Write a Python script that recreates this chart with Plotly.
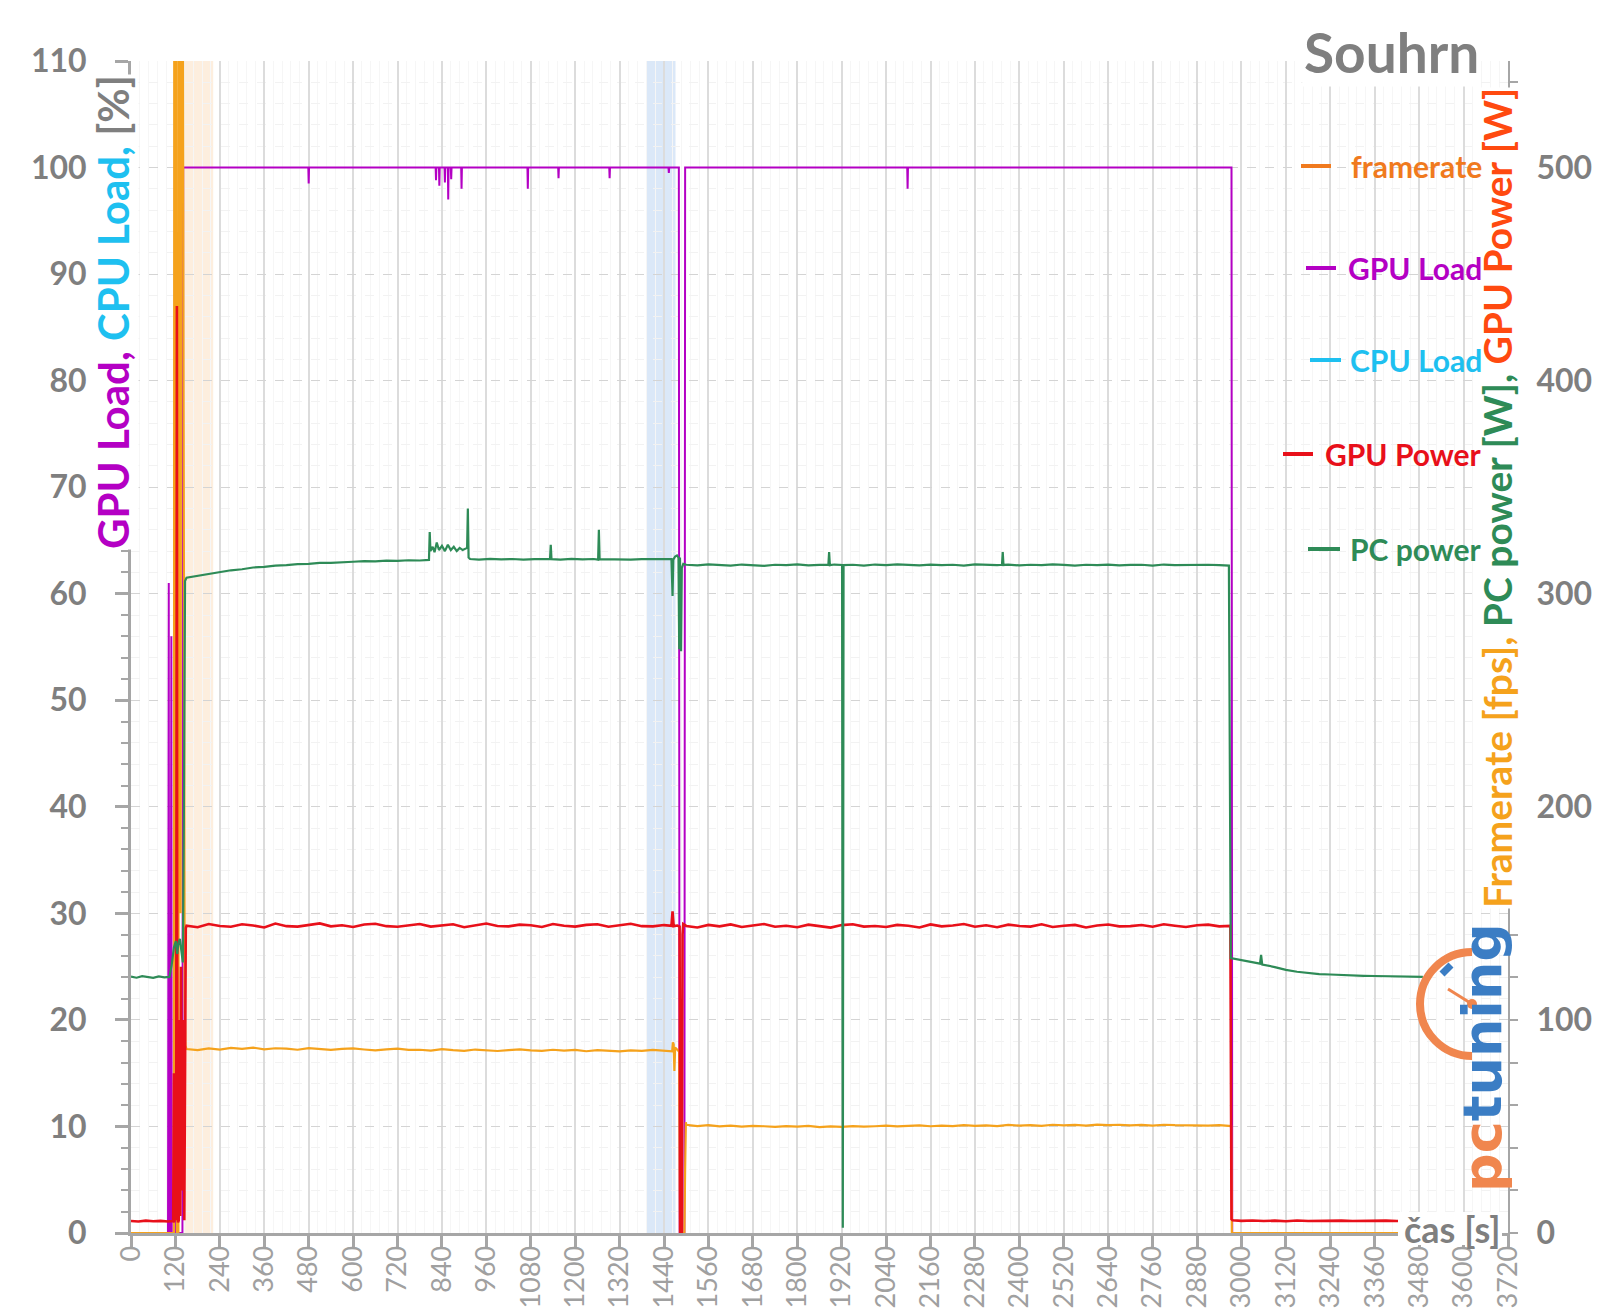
import plotly.graph_objects as go

# ---------------- canvas / plot box (pixels) ----------------
W, H = 1600, 1314
ML, MR, MT, MB = 123, 100, 53, 89
PW, PH = W - ML - MR, H - MT - MB

# ---------------- data ----------------
# GPU Load [%]  (left axis)   (time s, value)
gpu_load_pts = [
    (0, 0), (100, 0), (102, 61), (103, 0), (107, 0), (109, 56), (110, 0), (116, 0), (118, 45), (120, 0),
    (122, 30), (124, 0), (139, 0), (141, 100), (479, 100), (480, 98.5), (481, 100), (823, 100), (824, 98.8),
    (825, 100), (832, 100), (833, 98.3), (834, 100), (847, 100), (848, 98.6), (849, 100), (856, 100), (857, 97),
    (858, 100), (864, 100), (865, 98.9), (866, 100), (892, 100), (893, 98), (894, 100), (1071, 100), (1072, 98),
    (1073, 100), (1154, 100), (1155, 99), (1156, 100), (1292, 100), (1293, 99), (1294, 100), (1452, 100),
    (1453, 99.5), (1454, 100), (1480, 100), (1482, 0), (1495, 0), (1497, 100), (2097, 100), (2098, 98),
    (2099, 100), (2973, 100), (2975, 0), (3490, 0),
]

# CPU Load [%]  (left axis) - no samples visible in the chart
cpu_load_pts = []

# Framerate [fps]  (right axis)
framerate_pts = [
    (0, 0), (114, 0), (116, 0), (117, 700), (119, 700), (120, 60), (121, 700), (123, 700), (124, 0), (128, 0),
    (130, 700), (133, 700), (134, 150), (136, 700), (139, 700), (141, 507), (143, 200), (145, 110), (147, 88),
    (150, 86.3), (180, 85.8), (210, 86.6), (240, 86.1), (270, 86.9), (300, 86.4), (330, 87.0), (360, 86.2),
    (390, 86.7), (420, 86.5), (450, 86.0), (480, 86.8), (510, 86.3), (540, 85.9), (570, 86.4), (600, 86.6),
    (630, 86.1), (660, 85.7), (690, 86.2), (720, 86.5), (750, 85.9), (780, 86.0), (810, 85.6), (840, 86.3),
    (870, 85.8), (900, 85.5), (930, 86.1), (960, 85.9), (990, 85.4), (1020, 85.8), (1050, 86.2), (1080, 85.7),
    (1110, 85.5), (1140, 86.0), (1170, 85.6), (1200, 85.9), (1230, 85.3), (1260, 85.8), (1290, 85.6),
    (1320, 85.2), (1350, 85.7), (1380, 85.5), (1410, 85.9), (1440, 85.4), (1462, 85.3), (1464, 89.5),
    (1466, 88.5), (1468, 76), (1470, 87), (1476, 86), (1481, 85), (1483, 0), (1495, 0), (1497, 30), (1499, 52),
    (1500, 50.8), (1530, 50.2), (1560, 50.6), (1590, 50.0), (1620, 50.4), (1650, 49.9), (1680, 50.3),
    (1710, 50.1), (1740, 49.8), (1770, 50.2), (1800, 49.9), (1830, 50.3), (1860, 49.7), (1890, 50.0),
    (1920, 49.8), (1950, 50.2), (1980, 49.9), (2010, 50.1), (2040, 50.4), (2070, 50.0), (2100, 50.3),
    (2130, 50.5), (2160, 50.1), (2190, 50.4), (2220, 50.2), (2250, 50.6), (2280, 50.3), (2310, 50.5),
    (2340, 50.2), (2370, 50.7), (2400, 50.4), (2430, 50.6), (2460, 50.3), (2490, 50.8), (2520, 50.5),
    (2550, 50.7), (2580, 50.4), (2610, 50.9), (2640, 50.6), (2670, 50.8), (2700, 50.5), (2730, 50.7),
    (2760, 50.4), (2790, 50.8), (2820, 50.6), (2850, 50.5), (2880, 50.7), (2910, 50.4), (2940, 50.6),
    (2965, 50.4), (2972, 50.2), (2974, 0), (3430, 0),
]

# GPU Power [W]  (right axis)
gpu_power_pts = [
    (0, 5.6), (20, 5.4), (40, 5.8), (60, 5.5), (80, 5.7), (100, 5.4), (112, 5.6), (114, 5.5), (116, 75),
    (117, 5), (119, 72), (120, 6), (122, 20), (124, 435), (125, 15), (127, 5), (129, 6), (131, 100), (133, 8),
    (135, 125), (138, 20), (141, 100), (144, 6), (146, 100), (148, 143),
    (150, 144.2), (180, 143.5), (210, 145.0), (240, 144.1), (270, 143.7), (300, 144.9), (330, 144.3),
    (360, 143.4), (390, 145.2), (420, 144.0), (450, 143.8), (480, 144.6), (510, 145.3), (540, 143.9),
    (570, 144.4), (600, 143.6), (630, 144.8), (660, 145.1), (690, 144.0), (720, 143.7), (750, 144.5),
    (780, 145.0), (810, 143.8), (840, 144.3), (870, 144.9), (900, 143.5), (930, 144.2), (960, 145.2),
    (990, 144.1), (1020, 143.9), (1050, 144.7), (1080, 144.4), (1110, 143.6), (1140, 145.0), (1170, 144.2),
    (1200, 143.8), (1230, 144.6), (1260, 144.9), (1290, 143.7), (1320, 144.3), (1350, 145.1), (1380, 144.0),
    (1410, 143.9), (1440, 144.5), (1460, 144.2), (1463, 151), (1466, 144.0), (1476, 144.3), (1482, 143.8),
    (1484, 0), (1488, 0), (1490, 140), (1492, 145),
    (1500, 144.1), (1530, 143.4), (1560, 144.6), (1590, 143.9), (1620, 144.8), (1650, 143.6), (1680, 144.3),
    (1710, 145.0), (1740, 143.7), (1770, 144.2), (1800, 143.5), (1830, 144.7), (1860, 144.0), (1890, 143.3),
    (1920, 144.5), (1950, 144.9), (1980, 143.8), (2010, 144.1), (2040, 143.6), (2070, 144.6), (2100, 144.2),
    (2130, 143.4), (2160, 144.8), (2190, 143.9), (2220, 144.3), (2250, 145.0), (2280, 143.7), (2310, 144.4),
    (2340, 143.5), (2370, 144.7), (2400, 144.1), (2430, 143.8), (2460, 144.9), (2490, 143.6), (2520, 144.2),
    (2550, 144.6), (2580, 143.4), (2610, 144.3), (2640, 144.8), (2670, 143.9), (2700, 144.0), (2730, 144.5),
    (2760, 143.7), (2790, 144.9), (2820, 144.2), (2850, 143.6), (2880, 144.4), (2910, 144.7), (2940, 143.9),
    (2970, 144.1), (2973, 6.5), (2976, 6.0), (3000, 5.7), (3030, 5.9), (3060, 5.6), (3090, 5.8), (3120, 5.5),
    (3150, 5.9), (3180, 5.6), (3210, 5.7), (3240, 5.5), (3270, 5.8), (3300, 5.6), (3330, 5.7), (3360, 5.5),
    (3390, 5.8), (3420, 5.6), (3450, 5.7), (3480, 5.6), (3500, 5.6),
]

# PC power [W]  (right axis)
pc_power_pts = [
    (0, 120.3), (15, 119.8), (30, 120.5), (45, 120.1), (60, 119.7), (75, 120.4), (90, 120.0), (104, 120.2),
    (110, 126), (116, 134), (121, 137), (125, 131), (128, 136), (132, 138), (137, 130), (140, 127), (143, 200),
    (146, 306), (150, 307.5), (180, 308.4), (210, 309.3), (240, 310.2), (270, 311.0), (300, 311.5), (330, 312.3),
    (360, 312.6), (390, 313.2), (420, 313.4), (450, 313.9), (480, 314.0), (510, 314.5), (540, 314.5),
    (570, 314.9), (600, 315.0), (630, 315.3), (660, 315.2), (690, 315.5), (720, 315.4), (750, 315.7),
    (780, 315.6), (805, 315.9), (807, 329), (809, 320), (815, 322), (820, 319.5), (826, 324), (832, 320.5),
    (840, 322.5), (848, 320), (856, 323), (864, 320.5), (872, 322), (880, 320), (888, 321.5), (896, 320.5),
    (904, 321), (908, 321.5), (910, 340), (912, 317), (916, 316.3), (940, 316.0), (970, 316.4), (1000, 316.1),
    (1030, 316.3), (1060, 316.0), (1090, 316.2), (1120, 316.1), (1132, 316.3), (1134, 323), (1136, 316.2),
    (1160, 316.0), (1190, 316.4), (1220, 316.1), (1250, 316.3), (1262, 316.0), (1264, 330), (1266, 316.2),
    (1290, 316.1), (1320, 316.3), (1350, 316.0), (1380, 316.2), (1410, 316.1), (1440, 316.3), (1460, 316.2),
    (1463, 299), (1465, 316), (1470, 317.5), (1475, 318), (1479, 317), (1481, 274), (1483, 317), (1486, 273),
    (1488, 312), (1492, 314),
    (1500, 313.6), (1530, 313.3), (1560, 313.8), (1590, 313.4), (1620, 313.2), (1650, 313.7), (1680, 313.5),
    (1710, 313.1), (1740, 313.6), (1770, 313.4), (1800, 313.8), (1830, 313.3), (1860, 313.5), (1884, 313.6),
    (1886, 319.5), (1888, 313.4), (1900, 313.7), (1921, 313.5), (1923, 2.5), (1925, 313.4), (1950, 313.6),
    (1980, 313.2), (2010, 313.7), (2040, 313.4), (2070, 313.8), (2100, 313.5), (2130, 313.3), (2160, 313.7),
    (2190, 313.4), (2220, 313.6), (2250, 313.2), (2280, 313.8), (2310, 313.5), (2340, 313.4), (2353, 313.6),
    (2355, 319.5), (2357, 313.5), (2370, 313.7), (2400, 313.3), (2430, 313.6), (2460, 313.4), (2490, 313.8),
    (2520, 313.5), (2550, 313.2), (2580, 313.6), (2610, 313.4), (2640, 313.7), (2670, 313.3), (2700, 313.5),
    (2730, 313.6), (2760, 313.2), (2790, 313.7), (2820, 313.4), (2850, 313.5), (2880, 313.3), (2910, 313.6),
    (2940, 313.4), (2966, 313.2), (2971, 129), (2990, 128.3), (3020, 127.4), (3050, 126.4), (3053, 130.5),
    (3056, 126), (3090, 124.8), (3120, 123.5), (3150, 122.6), (3180, 121.9), (3210, 121.5), (3240, 121.3),
    (3270, 121.0), (3300, 120.9), (3330, 120.7), (3360, 120.6), (3390, 120.5), (3420, 120.4), (3450, 120.3),
    (3490, 120.2),
]

# highlighted time windows [s]
orange_band = (146, 222)
blue_band = (1392, 1471)

# colours
C_FPS = "#F5A21C"
C_FPS_TXT = "#F07A1E"
C_GPUL = "#B400C4"
C_CPUL = "#1EC0F0"
C_GPUP = "#E8101A"
C_PCP = "#2E8B57"
C_GPUP_TITLE = "#FF4A10"
GRAY = "#7f7f7f"
AXIS = "#a6a6a6"
FONT = "Lato"


def unzip(pts):
    return [p[0] for p in pts], [p[1] for p in pts]


def pxx(x):
    return (x - ML) / PW


def pxy(y):
    return (MT + PH - y) / PH


fig = go.Figure()

series = [
    ("framerate", framerate_pts, C_FPS, "y2", 2.2),
    ("GPU Load", gpu_load_pts, C_GPUL, "y", 2),
    ("CPU Load", cpu_load_pts, C_CPUL, "y", 2),
    ("GPU Power", gpu_power_pts, C_GPUP, "y2", 2.6),
    ("PC power", pc_power_pts, C_PCP, "y2", 2.2),
]
for name, pts, col, yax, w in series:
    xs, ys = unzip(pts)
    fig.add_trace(go.Scatter(x=xs, y=ys, name=name, mode="lines", yaxis=yax,
                             line=dict(color=col, width=w), showlegend=False))

shapes = [
    dict(type="rect", xref="x", yref="paper", x0=orange_band[0], x1=orange_band[1], y0=0, y1=1,
         fillcolor="rgba(250,205,160,0.35)", line=dict(width=0), layer="below"),
    dict(type="rect", xref="x", yref="paper", x0=blue_band[0], x1=blue_band[1], y0=0, y1=1,
         fillcolor="rgba(175,205,240,0.45)", line=dict(width=0), layer="below"),
    # white backing behind the x-axis title (tight, so tick labels below stay visible)
    dict(type="rect", xref="paper", yref="paper", x0=pxx(1390), x1=pxx(1494), y0=pxy(1237), y1=pxy(1204),
         fillcolor="white", line=dict(width=0), layer="above"),
]

annotations = []

# left axis title
annotations.append(dict(
    text=(f"<b><span style='color:{C_GPUL}'>GPU Load, </span>"
          f"<span style='color:{C_CPUL}'>CPU Load, </span>"
          f"<span style='color:{GRAY}'>[%]</span></b>"),
    x=pxx(105), y=pxy(304), xref="paper", yref="paper", xanchor="center", yanchor="middle",
    textangle=-90, showarrow=False, bgcolor="white", borderpad=0,
    font=dict(family=FONT, size=42)))

# right axis title
annotations.append(dict(
    text=(f"<b><span style='color:{C_FPS}'>Framerate [fps], </span>"
          f"<span style='color:{C_PCP}'>PC power [W], </span>"
          f"<span style='color:{C_GPUP_TITLE}'>GPU Power [W]</span></b>"),
    x=pxx(1489), y=pxy(490), xref="paper", yref="paper", xanchor="center", yanchor="middle",
    textangle=-90, showarrow=False, bgcolor="white", borderpad=0,
    font=dict(family=FONT, size=39)))

# title
annotations.append(dict(text="<b>Souhrn</b>", x=pxx(1473), y=pxy(44), xref="paper", yref="paper",
                        xanchor="right", yanchor="middle", showarrow=False, bgcolor="white",
                        font=dict(family=FONT, size=55, color=GRAY)))

# legend (right-aligned, Excel style) - drawn after the axis title
legend_items = [
    ("framerate", C_FPS_TXT, 158, 1293, 1323),
    ("GPU Load", C_GPUL, 260, 1298, 1328),
    ("CPU Load", C_CPUL, 352, 1302, 1333),
    ("GPU Power", C_GPUP, 446, 1275, 1305),
    ("PC power", C_PCP, 541, 1300, 1332),
]
for txt, col, yc, d0, d1 in legend_items:
    annotations.append(dict(text=f"<b>{txt}</b>", x=pxx(1476), y=pxy(yc), xref="paper", yref="paper",
                            xanchor="right", yanchor="middle", showarrow=False,
                            font=dict(family=FONT, size=30, color=col)))
    shapes.append(dict(type="line", xref="paper", yref="paper", x0=pxx(d0), x1=pxx(d1),
                       y0=pxy(yc), y1=pxy(yc), line=dict(color=col, width=4)))

# x axis title
annotations.append(dict(text="<b>čas [s]</b>", x=pxx(1494), y=pxy(1221), xref="paper", yref="paper",
                        xanchor="right", yanchor="middle", showarrow=False,
                        font=dict(family=FONT, size=36, color=GRAY)))

# pctuning watermark
annotations.append(dict(
    text="<b><span style='color:#F0864E'>pc</span><span style='color:#3B7DC4'>tuning</span></b>",
    x=pxx(1474), y=pxy(1050), xref="paper", yref="paper", xanchor="center", yanchor="middle",
    textangle=-90, showarrow=False, font=dict(family="DejaVu Sans", size=54)))
cx, cy, r = 1464, 996, 52
k = 0.5523 * r
arc = (f"M {pxx(cx)},{pxy(cy - r)} "
       f"C {pxx(cx - k)},{pxy(cy - r)} {pxx(cx - r)},{pxy(cy - k)} {pxx(cx - r)},{pxy(cy)} "
       f"C {pxx(cx - r)},{pxy(cy + k)} {pxx(cx - k)},{pxy(cy + r)} {pxx(cx)},{pxy(cy + r)}")
shapes.append(dict(type="path", xref="paper", yref="paper", path=arc,
                   line=dict(color="#F0864E", width=8)))
shapes.append(dict(type="line", xref="paper", yref="paper", x0=pxx(1440), y0=pxy(981), x1=pxx(1464),
                   y1=pxy(996), line=dict(color="#F0864E", width=3)))
shapes.append(dict(type="circle", xref="paper", yref="paper", x0=pxx(1459), x1=pxx(1469), y0=pxy(991),
                   y1=pxy(1001), fillcolor="#F0864E", line=dict(width=0)))
shapes.append(dict(type="line", xref="paper", yref="paper", x0=pxx(1434), y0=pxy(966), x1=pxx(1443),
                   y1=pxy(957), line=dict(color="#3B7DC4", width=7)))

fig.update_layout(
    width=W, height=H, margin=dict(l=ML, r=MR, t=MT, b=MB, autoexpand=False),
    paper_bgcolor="white", plot_bgcolor="white", showlegend=False,
    font=dict(family=FONT, color=GRAY),
    shapes=shapes, annotations=annotations,
    xaxis=dict(range=[0, 3720], tick0=0, dtick=120, tickangle=-90,
               showline=True, linecolor=AXIS, linewidth=3, zeroline=False,
               showgrid=True, gridcolor="#dcdcdc", gridwidth=1.5,
               ticks="outside", ticklen=11, tickwidth=3, tickcolor=AXIS, ticklabelstandoff=-12,
               tickfont=dict(family=FONT, size=27, color="#a0a0a0"),
               minor=dict(dtick=24, showgrid=True, gridcolor="#f6f6f6", gridwidth=1)),
    yaxis=dict(range=[0, 110], dtick=10, showline=True, linecolor=AXIS, linewidth=3, zeroline=False,
               showgrid=True, gridcolor="#d4d4d4", gridwidth=1.2, griddash="dash",
               ticks="outside", ticklen=13, tickwidth=3, tickcolor=AXIS, ticklabelstandoff=22,
               tickfont=dict(family=FONT, size=32, color=GRAY, weight="bold"),
               minor=dict(dtick=2, showgrid=True, gridcolor="#f2f2f2", gridwidth=1,
                          ticks="outside", ticklen=7, tickwidth=2, tickcolor=AXIS)),
    yaxis2=dict(range=[0, 550], dtick=100, overlaying="y", side="right", anchor="x",
                showline=True, linecolor=AXIS, linewidth=2, zeroline=False, showgrid=False,
                ticks="outside", ticklen=8, tickwidth=2, tickcolor=AXIS, ticklabelstandoff=12,
                tickfont=dict(family=FONT, size=32, color=GRAY, weight="bold"),
                minor=dict(dtick=20, ticks="outside", ticklen=8, tickwidth=2, tickcolor=AXIS,
                           showgrid=False)),
)

fig.write_html("out.html")
